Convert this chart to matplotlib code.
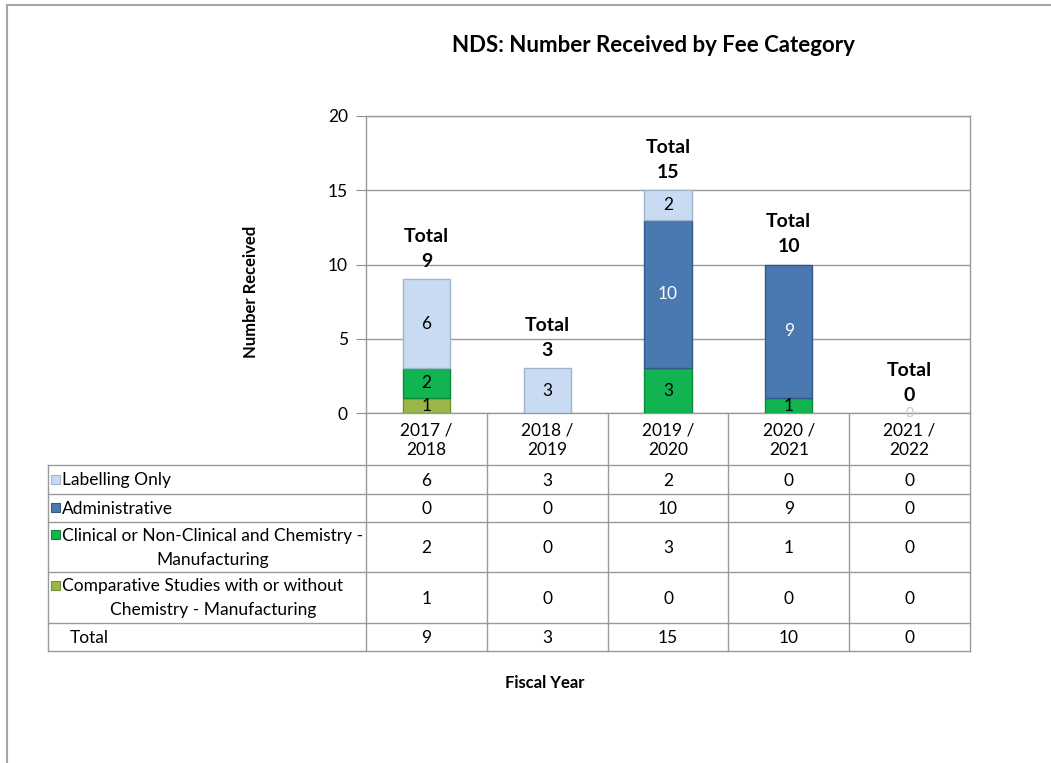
import matplotlib.pyplot as plt
from matplotlib.lines import Line2D
from matplotlib.patches import Rectangle

plt.rcParams['font.family'] = ['Lato', 'DejaVu Sans']

# Fiscal years and counts per fee category
years = ['2017 /\n2018', '2018 /\n2019', '2019 /\n2020', '2020 /\n2021', '2021 /\n2022']
labelling = [6, 3, 2, 0, 0]
administrative = [0, 0, 10, 9, 0]
clinical = [2, 0, 3, 1, 0]
comparative = [1, 0, 0, 0, 0]
totals = [9, 3, 15, 10, 0]

# table rows (top to bottom) = legend order
row_names = ['Labelling Only', 'Administrative',
             'Clinical or Non-Clinical and Chemistry -\nManufacturing',
             'Comparative Studies with or without\nChemistry - Manufacturing']
row_values = [labelling, administrative, clinical, comparative]
colors = ['#c8dbf2', '#4a78b0', '#12b451', '#9bb64a']
edge_colors = ['#9fb4cf', '#33598a', '#0b8a3c', '#76902f']
label_colors = ['black', 'white', 'black', 'black']

W, H = 1051, 763
fig = plt.figure(figsize=(W / 100, H / 100), dpi=100)

# full-figure overlay in pixel coordinates for the table and frame
bg = fig.add_axes([0, 0, 1, 1])
bg.set_xlim(0, W)
bg.set_ylim(H, 0)
bg.axis('off')

left, right, top, bottom = 366, 970, 116, 413
ax = fig.add_axes([left / W, 1 - bottom / H, (right - left) / W, (bottom - top) / H])
ax.set_xlim(-0.5, len(years) - 0.5)
ax.set_ylim(0, 20)
ax.set_yticks(range(0, 21, 5))
ax.set_xticks([])
ax.tick_params(axis='y', length=7, color='#8c8c8c', labelsize=12.5, pad=6)
ax.yaxis.grid(True, color='#9a9a9a', linewidth=1)
ax.set_axisbelow(True)
for s in ax.spines.values():
    s.set_color('#9a9a9a')
    s.set_linewidth(1)

# stacked bars, bottom series first
x = list(range(len(years)))
base = [0] * len(years)
for i in [3, 2, 1, 0]:
    vals = row_values[i]
    ax.bar(x, vals, width=0.39, bottom=base, color=colors[i],
           edgecolor=edge_colors[i], linewidth=[1 if v > 0 else 0 for v in vals],
           zorder=3)
    for xi, v, b in zip(x, vals, base):
        if v > 0:
            ax.text(xi, b + v / 2, str(v), ha='center', va='center',
                    fontsize=12.5, color=label_colors[i], zorder=4)
    base = [b + v for b, v in zip(base, vals)]

for xi, t in zip(x, totals):
    ax.annotate(f'Total\n{t}', (xi, t), xytext=(0, 9), textcoords='offset pixels',
                ha='center', va='bottom', fontsize=14, fontweight='bold',
                linespacing=1.6, zorder=5)
    if t == 0:
        ax.text(xi, 0, '0', ha='center', va='center', fontsize=10,
                color='#c8c8c8', zorder=5)

# data table under the chart
gc = '#9a9a9a'
col_w = (right - left) / len(years)
col_edges = [left + i * col_w for i in range(len(years) + 1)]
row_edges = [465, 494, 522, 572, 623, 651]
tab_left = 48
fs = 12.5

for y in row_edges:
    bg.add_line(Line2D([tab_left, right], [y, y], color=gc, lw=1))
bg.add_line(Line2D([tab_left, tab_left], [row_edges[0], row_edges[-1]], color=gc, lw=1))
for xe in col_edges:
    bg.add_line(Line2D([xe, xe], [bottom, row_edges[-1]], color=gc, lw=1))

for j, yr in enumerate(years):
    cx = (col_edges[j] + col_edges[j + 1]) / 2
    bg.text(cx, (bottom + row_edges[0]) / 2 + 1, yr, ha='center', va='center',
            fontsize=fs, linespacing=1.3)

all_rows = row_values + [totals]
for r, vals in enumerate(all_rows):
    cy = (row_edges[r] + row_edges[r + 1]) / 2
    for j, v in enumerate(vals):
        cx = (col_edges[j] + col_edges[j + 1]) / 2
        bg.text(cx, cy + 1, str(v), ha='center', va='center', fontsize=fs)
    if r < len(row_names):
        lines = row_names[r].split('\n')
        first_y = cy if len(lines) == 1 else cy - 12
        bg.add_patch(Rectangle((51, first_y - 5), 9, 9, facecolor=colors[r],
                               edgecolor=edge_colors[r], lw=0.8))
        bg.text(62, first_y + 1, lines[0], ha='left', va='center', fontsize=fs)
        if len(lines) > 1:
            bg.text(213, cy + 13, lines[1], ha='center', va='center', fontsize=fs)
    else:
        bg.text(70, cy + 1, 'Total', ha='left', va='center', fontsize=fs)

# titles
bg.text(653, 45, 'NDS: Number Received by Fee Category', ha='center', va='center',
        fontsize=16, fontweight='bold')
bg.text(545, 683, 'Fiscal Year', ha='center', va='center', fontsize=12, fontweight='bold')
bg.text(251, 292, 'Number Received', ha='center', va='center', rotation=90,
        fontsize=12, fontweight='bold')

# outer frame (top and left edges visible)
bg.add_line(Line2D([7, W], [4.5, 4.5], color='#a6a6a6', lw=1.5))
bg.add_line(Line2D([7, 7], [4.5, H], color='#a6a6a6', lw=1.5))

fig.savefig('out.png', dpi=100)
